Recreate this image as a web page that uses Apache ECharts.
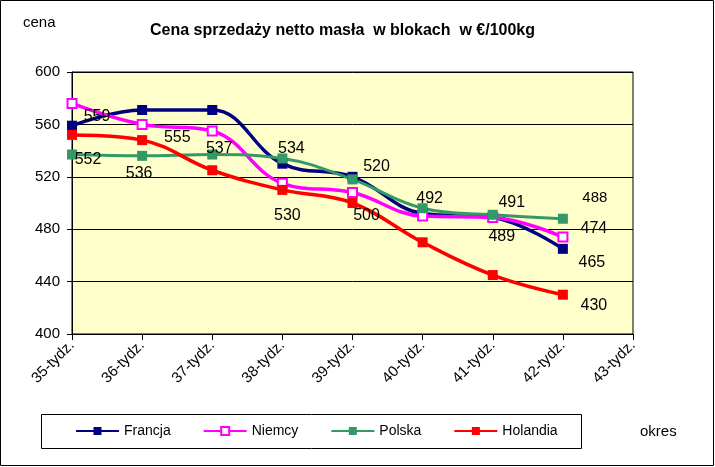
<!DOCTYPE html>
<html>
<head>
<meta charset="utf-8">
<script src="https://cdn.jsdelivr.net/npm/echarts@6/dist/echarts.min.js"></script>
<style>html,body{margin:0;padding:0;background:#fff;}#c{width:715px;height:467px;}</style>
</head>
<body>
<div id="c"></div>
<script>
const categories = ['35-tydz.','36-tydz.','37-tydz.','38-tydz.','39-tydz.','40-tydz.','41-tydz.','42-tydz.','43-tydz.'];
const francja  = [559, 571, 571, 530, 520, 492, 489, 465];
const niemcy   = [576, 560, 555, 515, 508, 490, 489, 474];
const polska   = [537, 536, 537, 534, 518, 496, 491, 488];
const holandia = [552, 548, 525, 510, 500, 470, 445, 430];
const yTicks = {min: 400, max: 600, step: 40};

// label placements (style only): index -> [dx, dy, fontSize]
const labelPos = {
  Francja:  {0:[25,-9,16], 3:[5,52,16], 4:[24,-10,16], 5:[7,-15,16], 7:[29,14,16]},
  Niemcy:   {2:[-35,7,16], 6:[9,19,16], 7:[31,-8,16]},
  Polska:   {1:[-3,18,16], 2:[7,-6,16], 3:[9,-10,16], 6:[19,-12,16], 7:[32,-21,15]},
  Holandia: {0:[16,25,16], 4:[14,13,16], 7:[31,11,16]}
};

const font = 'Liberation Sans, Arial, sans-serif';

function mkData(name, arr) {
  return arr.map((v, i) => {
    const p = labelPos[name][i];
    if (!p) return {value: v};
    return {value: v, label: {show: true, position: 'inside', offset: [p[0], p[1]], fontSize: p[2],
      color: '#000', fontFamily: font, formatter: '{c}'}};
  });
}

const styles = {
  Francja:  {color: '#000080', fill: '#000080', w: 3.5},
  Niemcy:   {color: '#FF00FF', fill: '#FFFFFF', w: 3.5},
  Polska:   {color: '#339966', fill: '#339966', w: 3},
  Holandia: {color: '#FF0000', fill: '#FF0000', w: 3.5}
};
const seriesData = {Francja: francja, Niemcy: niemcy, Polska: polska, Holandia: holandia};

const series = Object.keys(seriesData).map(name => ({
  name: name,
  type: 'line',
  smooth: 0.4,
  data: mkData(name, seriesData[name]),
  symbol: 'rect',
  symbolSize: name === 'Niemcy' ? 9 : 10,
  showAllSymbol: true,
  lineStyle: {color: styles[name].color, width: styles[name].w},
  itemStyle: {color: styles[name].fill, borderColor: styles[name].color, borderWidth: name === 'Niemcy' ? 2 : 0},
  label: {show: false},
  emphasis: {disabled: true},
  animation: false
}));

const chart = echarts.init(document.getElementById('c'), null, {renderer: 'canvas'});
chart.setOption({
  animation: false,
  backgroundColor: '#fff',
  textStyle: {fontFamily: font},
  grid: {left: 72, right: 82, top: 72, bottom: 133, show: true, backgroundColor: '#FFFFCC', borderColor: '#000', borderWidth: 1},
  xAxis: {
    type: 'category', data: categories, boundaryGap: false,
    axisLine: {lineStyle: {color: '#000', width: 1}},
    axisTick: {show: true, alignWithLabel: true, length: 6, lineStyle: {color: '#000'}},
    axisLabel: {rotate: 45, color: '#000', fontSize: 15, fontFamily: font, margin: 9, interval: 0},
    splitLine: {show: false}
  },
  yAxis: {
    type: 'value', min: yTicks.min, max: yTicks.max, interval: yTicks.step,
    axisLine: {show: true, lineStyle: {color: '#000', width: 1}},
    axisTick: {show: true, length: 5, lineStyle: {color: '#000'}},
    axisLabel: {color: '#000', fontSize: 15, fontFamily: font, margin: 12},
    splitLine: {show: true, lineStyle: {color: '#000', width: 1}}
  },
  legend: {
    left: 75, top: 424, padding: 0, itemWidth: 43, itemHeight: 10, itemGap: 32,
    textStyle: {color: '#000', fontSize: 14, fontFamily: font},
    data: ['Francja', 'Niemcy', 'Polska', 'Holandia']
  },
  graphic: [
    {type: 'rect', shape: {x: 0.5, y: 0.5, width: 713, height: 465}, style: {fill: 'none', stroke: '#000', lineWidth: 1}, silent: true},
    {type: 'rect', shape: {x: 41.5, y: 414.5, width: 540, height: 34}, style: {fill: 'none', stroke: '#000', lineWidth: 1}, silent: true},
    {type: 'text', left: 23, top: 15, style: {text: 'cena', fontSize: 15, fontFamily: font, fill: '#000'}},
    {type: 'text', left: 640, top: 424, style: {text: 'okres', fontSize: 15, fontFamily: font, fill: '#000'}},
    {type: 'text', left: 150, top: 23, style: {text: 'Cena sprzedaży netto masła  w blokach  w €/100kg', fontSize: 16, fontWeight: 'bold', fontFamily: font, fill: '#000'}}
  ],
  series: series
});
</script>
</body>
</html>
